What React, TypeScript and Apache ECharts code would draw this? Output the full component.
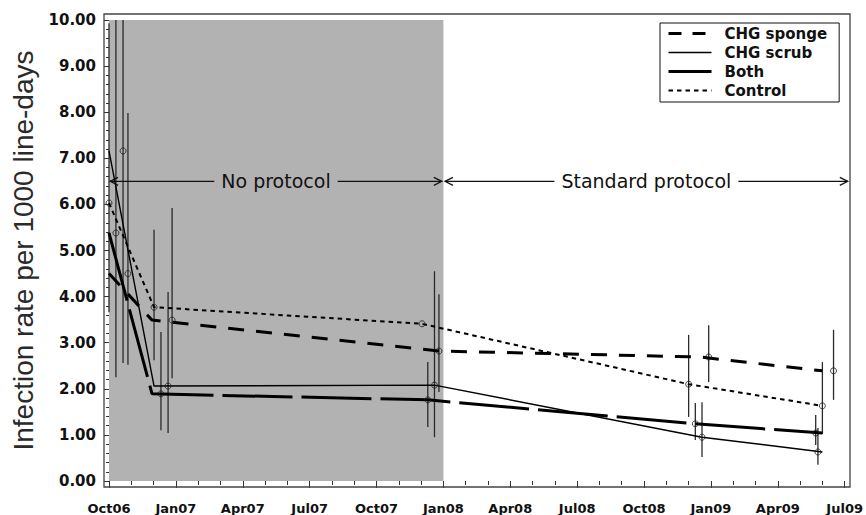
import React, { useEffect, useRef } from 'react';
import * as echarts from 'echarts';

// ---- axes ----
const xTickLabels = ['Oct06', 'Jan07', 'Apr07', 'Jul07', 'Oct07', 'Jan08', 'Apr08', 'Jul08', 'Oct08', 'Jan09', 'Apr09', 'Jul09'];
const yTickLabels = ['0.00', '1.00', '2.00', '3.00', '4.00', '5.00', '6.00', '7.00', '8.00', '9.00', '10.00'];
const yTitle = 'Infection rate per 1000 line-days';

// ---- series (x = months since Oct 2006) ----
const seriesNames = ['CHG sponge', 'CHG scrub', 'Both', 'Control'];

const spongeLineMonths = [0, 1.93, 14.8, 26.5, 32.0];
const scrubLineMonths = [0, 2.02, 14.6, 26.6, 32.0];
const bothLineMonths = [0, 1.93, 14.3, 26.3, 32.0];
const controlLineMonths = [0, 2.02, 14.04, 26.0, 32.0];

const spongeRates = [4.5, 3.49, 2.82, 2.69, 2.39];
const scrubRates = [7.16, 2.06, 2.08, 0.95, 0.63];
const bothRates = [5.38, 1.89, 1.76, 1.24, 1.04];
const controlRates = [6.03, 3.77, 3.41, 2.1, 1.63];

// positions of the circles / error bars (offset so they do not overlap)
const spongeMarkMonths = [0.85, 2.83, 14.8, 26.9, 32.5];
const scrubMarkMonths = [0.63, 2.65, 14.6, 26.6, 31.8];
const bothMarkMonths = [0.31, 2.33, 14.3, 26.3, 31.7];
const controlMarkMonths = [0, 2.02, 14.04, 26.0, 32.0];

// 95% confidence limits (upper limits above 10 are cut at the frame)
const spongeLow = [2.52, 2.23, 1.93, 2.15, 1.76];
const spongeHigh = [7.98, 5.92, 4.05, 3.38, 3.28];
const scrubLow = [2.56, 1.04, 0.95, 0.52, 0.35];
const scrubHigh = [10, 4.1, 4.55, 1.71, 1.15];
const bothLow = [2.25, 1.1, 1.17, 0.89, 0.78];
const bothHigh = [10, 3.23, 2.58, 1.69, 1.43];
const controlLow = [3.66, 2.62, null, 1.39, 1.02];
const controlHigh = [9.93, 5.45, null, 3.17, 2.58];

// ---- periods ----
const shadedPeriod = [0, 15, 0, 10];
const periodLabels = ['No protocol', 'Standard protocol'];
const periodStarts = [0.05, 15.07];
const periodEnds = [14.93, 33.14];
const periodLevel = 6.5;

const SHADE = '#b2b2b2';
const BOLD_FONT = 'DejaVu Sans';

const groups = [
  { name: seriesNames[0], lm: spongeLineMonths, v: spongeRates, mm: spongeMarkMonths, lo: spongeLow, hi: spongeHigh, width: 3, type: [16, 12] as any, legendType: [13, 11] as any },
  { name: seriesNames[1], lm: scrubLineMonths, v: scrubRates, mm: scrubMarkMonths, lo: scrubLow, hi: scrubHigh, width: 1.4, type: 'solid' as any, legendType: 'solid' as any },
  { name: seriesNames[2], lm: bothLineMonths, v: bothRates, mm: bothMarkMonths, lo: bothLow, hi: bothHigh, width: 3, type: [70, 9] as any, legendType: 'solid' as any },
  { name: seriesNames[3], lm: controlLineMonths, v: controlRates, mm: controlMarkMonths, lo: controlLow, hi: controlHigh, width: 2, type: [4.5, 4] as any, legendType: [4.5, 4] as any },
];

export default function App() {
  const ref = useRef<HTMLDivElement>(null);
  useEffect(() => {
    if (!ref.current) return;
    const chart = echarts.init(ref.current, undefined, { renderer: 'svg' });

    const series: any[] = [];
    series.push({
      type: 'custom',
      name: 'shade',
      z: 0,
      silent: true,
      data: [shadedPeriod],
      encode: { x: [0, 1], y: [2, 3] },
      renderItem: (params: any, api: any) => {
        const a = api.coord([api.value(0), api.value(3)]);
        const b = api.coord([api.value(1), api.value(2)]);
        return { type: 'rect', shape: { x: a[0], y: a[1], width: b[0] - a[0], height: b[1] - a[1] }, style: { fill: SHADE } };
      },
    });

    groups.forEach((g) => {
      series.push({
        type: 'custom',
        name: g.name + ' CI',
        z: 2,
        silent: true,
        data: g.mm.map((m, i) => [m, g.lo[i], g.hi[i]]).filter((d) => d[1] != null),
        encode: { x: 0, y: [1, 2] },
        renderItem: (params: any, api: any) => {
          const a = api.coord([api.value(0), api.value(1)]);
          const b = api.coord([api.value(0), api.value(2)]);
          return { type: 'line', shape: { x1: a[0], y1: a[1], x2: b[0], y2: b[1] }, style: { stroke: '#2a2a2a', lineWidth: 1.3 } };
        },
      });
    });

    groups.forEach((g) => {
      series.push({
        type: 'line',
        name: g.name,
        z: 3,
        symbol: 'none',
        data: g.lm.map((m, i) => [m, g.v[i]]),
        lineStyle: { color: '#000', width: g.width, type: g.type },
        itemStyle: { color: '#000' },
      });
    });

    groups.forEach((g) => {
      series.push({
        type: 'scatter',
        name: g.name + ' points',
        z: 4,
        symbol: 'circle',
        symbolSize: 6,
        data: g.mm.map((m, i) => [m, g.v[i]]),
        itemStyle: { color: 'transparent', borderColor: '#1a1a1a', borderWidth: 1 },
      });
    });

    series.push({
      type: 'custom',
      name: 'periods',
      z: 5,
      silent: true,
      data: periodStarts.map((s, i) => [s, periodEnds[i], periodLevel]),
      encode: { x: [0, 1], y: 2 },
      renderItem: (params: any, api: any) => {
        const p1 = api.coord([api.value(0), api.value(2)]);
        const p2 = api.coord([api.value(1), api.value(2)]);
        const idx = params.dataIndex;
        const st = { stroke: '#111', lineWidth: 1.2, fill: 'none' };
        return {
          type: 'group',
          children: [
            { type: 'line', shape: { x1: p1[0], y1: p1[1], x2: p2[0], y2: p2[1] }, style: st },
            { type: 'polyline', shape: { points: [[p1[0] + 8, p1[1] - 4], [p1[0], p1[1]], [p1[0] + 8, p1[1] + 4]] }, style: st },
            { type: 'polyline', shape: { points: [[p2[0] - 8, p2[1] - 4], [p2[0], p2[1]], [p2[0] - 8, p2[1] + 4]] }, style: st },
            {
              type: 'text',
              x: (p1[0] + p2[0]) / 2,
              y: p1[1],
              style: {
                text: periodLabels[idx],
                fontFamily: 'DejaVu Sans',
                fontSize: 19,
                fill: '#111',
                align: 'center',
                verticalAlign: 'middle',
                backgroundColor: idx === 0 ? SHADE : '#fff',
                padding: [2, 7],
              },
            },
          ],
        };
      },
    });

    chart.setOption({
      animation: false,
      backgroundColor: '#fff',
      grid: { left: 109, right: 21, top: 20, bottom: 34 },
      xAxis: {
        type: 'value',
        min: 0,
        max: 33,
        interval: 3,
        offset: 6,
        axisLine: { show: false },
        axisTick: { show: true, length: 7, lineStyle: { color: '#333', width: 1 } },
        minorTick: { show: true, splitNumber: 3, length: 4, lineStyle: { color: '#333', width: 1 } },
        splitLine: { show: false },
        axisLabel: {
          formatter: (v: number) => xTickLabels[Math.round(v / 3)] ?? '',
          fontFamily: BOLD_FONT,
          fontWeight: 'bold',
          fontSize: 13,
          color: '#111',
          margin: 15,
        },
      },
      yAxis: {
        type: 'value',
        min: 0,
        max: 10,
        interval: 1,
        offset: 5,
        axisLine: { show: false },
        axisTick: { show: true, length: 5, lineStyle: { color: '#333', width: 1 } },
        minorTick: { show: true, splitNumber: 5, length: 3, lineStyle: { color: '#333', width: 1 } },
        splitLine: { show: false },
        axisLabel: {
          formatter: (v: number) => yTickLabels[Math.round(v)] ?? '',
          fontFamily: BOLD_FONT,
          fontWeight: 'bold',
          fontSize: 15,
          color: '#111',
          margin: 8,
        },
        name: yTitle,
        nameLocation: 'middle',
        nameGap: 63,
        nameTextStyle: { fontFamily: 'Liberation Sans', fontSize: 28, color: '#2a2a2a' },
      },
      legend: {
        data: groups.map((g) => ({
          name: g.name,
          lineStyle: { width: g.width, type: g.legendType, color: '#000' },
        })),
        orient: 'vertical',
        left: 660,
        top: 23,
        itemWidth: 43,
        itemHeight: 12,
        itemGap: 4,
        padding: [3, 12, 4, 7],
        borderColor: '#111',
        borderWidth: 1,
        selectedMode: false,
        itemStyle: { color: 'rgba(0,0,0,0)', borderColor: 'rgba(0,0,0,0)', borderWidth: 0, opacity: 0 },
        textStyle: { fontFamily: BOLD_FONT, fontWeight: 'bold', fontSize: 15, color: '#111', lineHeight: 15, padding: [0, 0, 0, 8] },
      },
      graphic: [
        {
          type: 'rect',
          x: 104,
          y: 14,
          shape: { x: 0, y: 0, width: 746, height: 473 },
          style: { fill: 'none', stroke: '#444', lineWidth: 1.3 },
          silent: true,
          z: 10,
        },
      ],
      series,
    });

    return () => chart.dispose();
  }, []);

  return <div ref={ref} style={{ position: 'fixed', left: 0, top: 0, width: 866, height: 515, background: '#fff' }} />;
}
